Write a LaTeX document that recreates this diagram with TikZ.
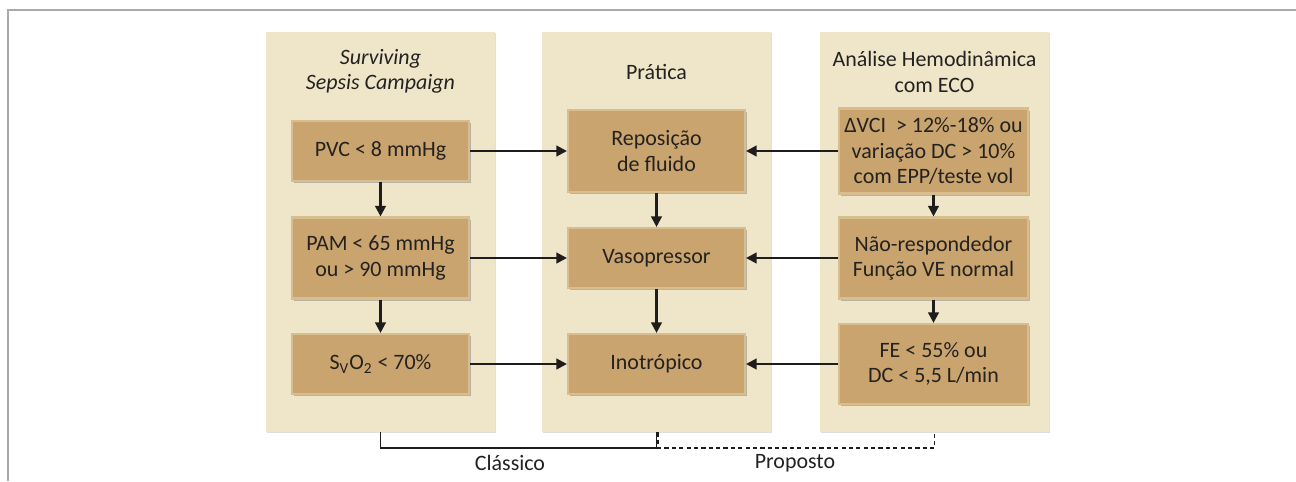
\documentclass[tikz,border=0pt]{standalone}
\usepackage{fontspec}
\setmainfont{Carlito}
\usetikzlibrary{arrows.meta,shadows}

\begin{document}
\begin{tikzpicture}[x=0.02cm,y=-0.02cm,
    painel/.style={fill=fundo, minimum width=4.58cm, minimum height=8cm, inner sep=0pt,
      drop shadow={shadow xshift=0.7pt, shadow yshift=-0.7pt, opacity=0.25}},
    caixa/.style={fill=caixafill, draw=caixaborda, line width=1.2pt, minimum width=3.54cm,
      align=center, inner sep=2pt, text=texto, font=\fontsize{12.5}{14.5}\selectfont,
      drop shadow={shadow xshift=1pt, shadow yshift=-1.3pt, opacity=0.5}},
    titulo/.style={align=center, text=texto, font=\fontsize{12.5}{14.5}\selectfont},
    seta/.style={draw=linha, line width=1.3pt, -{Triangle[length=6pt,width=6pt]}},
    chave/.style={draw=linha, line width=1.1pt}]
    \definecolor{fundo}{RGB}{239,229,201}
    \definecolor{caixafill}{RGB}{201,164,110}
    \definecolor{caixaborda}{RGB}{216,189,143}
    \definecolor{texto}{RGB}{36,34,32}
    \definecolor{linha}{RGB}{30,28,28}
    \definecolor{moldura}{RGB}{170,170,170}

    \useasboundingbox (0,0) rectangle (1296,481);
    \draw[moldura, line width=1.1pt] (8,481) -- (8,10) -- (1296,10);

    % Paineis
    \node[painel] (ssc) at (380.5,232) {};
    \node[painel] (pratica) at (656.5,232) {};
    \node[painel] (eco) at (934.5,232) {};

    % Titulos
    \node[titulo] (tssc) at (380.5,71.5) {\itshape Surviving\\\itshape Sepsis Campaign};
    \node[titulo] (tpratica) at (656.5,72) {Prática};
    \node[titulo] (teco) at (934.5,72) {Análise Hemodinâmica\\com ECO};

    % Coluna classica
    \node[caixa, minimum height=1.2cm] (pvc) at (380.5,151) {PVC < 8 mmHg};
    \node[caixa, minimum height=1.62cm] (pam) at (380.5,258) {PAM < 65 mmHg\\ou > 90 mmHg};
    \node[caixa, minimum height=1.2cm] (svo) at (380.5,364) {S\textsubscript{V}O\textsubscript{2} < 70\%};

    % Coluna pratica
    \node[caixa, minimum height=1.64cm] (fluido) at (656.5,151) {Reposição\\de fluido};
    \node[caixa, minimum height=1.2cm] (vaso) at (656.5,258) {Vasopressor};
    \node[caixa, minimum height=1.2cm] (ino) at (656.5,364) {Inotrópico};

    % Coluna eco
    \node[caixa, minimum width=3.78cm, minimum height=1.7cm] (dvci) at (933.5,151) {ΔVCI\ \ > 12\%-18\% ou\\variação DC > 10\%\\com EPP/teste vol};
    \node[caixa, minimum width=3.78cm, minimum height=1.62cm] (naoresp) at (933.5,258) {Não-respondedor\\Função VE normal};
    \node[caixa, minimum width=3.78cm, minimum height=1.6cm] (fe) at (933.5,364) {FE < 55\% ou\\DC < 5,5 L/min};

    % Setas horizontais
    \draw[seta] (pvc) -- (fluido);
    \draw[seta] (pam) -- (vaso);
    \draw[seta] (svo) -- (ino);
    \draw[seta] (dvci) -- (fluido);
    \draw[seta] (naoresp) -- (vaso);
    \draw[seta] (fe) -- (ino);

    % Setas verticais
    \draw[seta] (pvc) -- (pam);
    \draw[seta] (pam) -- (svo);
    \draw[seta] (fluido) -- (vaso);
    \draw[seta] (vaso) -- (ino);
    \draw[seta] (dvci) -- (naoresp);
    \draw[seta] (naoresp) -- (fe);

    % Chaves de baixo
    \draw[chave] (ssc.south) -- ++(0,16) -| (pratica.south);
    \draw[chave, dash pattern=on 2.4pt off 1.8pt] ([xshift=1pt]pratica.south) -- ++(0,16) -| (eco.south);
    \node[titulo] (classico) at (510,463) {Clássico};
    \node[titulo] (proposto) at (795,463) {Proposto};
  \end{tikzpicture}
\end{document}
